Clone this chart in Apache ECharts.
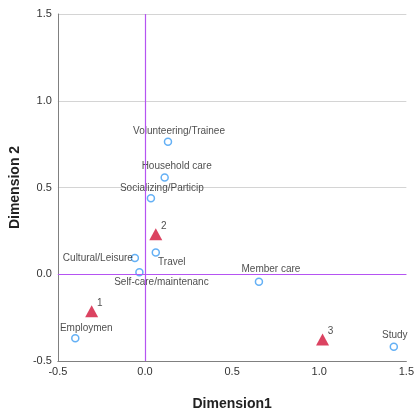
<!DOCTYPE html>
<html>
<head>
<meta charset="utf-8">
<script src="https://cdn.jsdelivr.net/npm/echarts@6/dist/echarts.min.js"></script>
<style>
  html, body { margin: 0; padding: 0; background: #fff; }
  #main { width: 417px; height: 416px; }
</style>
</head>
<body>
<div id="main"></div>
<script>
// category points (row/column coordinates)
const catNames = ['Volunteering/Trainee', 'Household care', 'Socializing/Particip', 'Travel',
  'Cultural/Leisure', 'Self-care/maintenanc', 'Member care', 'Employmen', 'Study']
const catX = [0.132, 0.113, 0.034, 0.062, -0.058, -0.032, 0.654, -0.400, 1.428]
const catY = [0.763, 0.557, 0.438, 0.126, 0.094, 0.011, -0.043, -0.369, -0.418]

// cluster points
const clusterNames = ['1', '2', '3']
const clusterX = [-0.306, 0.062, 1.019]
const clusterY = [-0.213, 0.231, -0.376]

const tickValues = [-0.5, 0.0, 0.5, 1.0, 1.5]

// label placement (offset from point centre)
const labelOffset = {
  'Volunteering/Trainee': [11, -11],
  'Household care': [12, -11],
  'Socializing/Particip': [11, -10],
  'Travel': [16, 10],
  'Cultural/Leisure': [-37, 0],
  'Self-care/maintenanc': [22, 10],
  'Member care': [12, -12],
  'Employmen': [11, -10],
  'Study': [1, -12]
}

const chart = echarts.init(document.getElementById('main'))

const font = 'Liberation Sans, Arial, sans-serif'
const refColor = '#b554f2'

const catData = catNames.map((n, i) => ({
  name: n,
  value: [catX[i], catY[i]],
  label: { offset: labelOffset[n] }
}))
const clusterData = clusterNames.map((n, i) => ({
  name: n,
  value: [clusterX[i], clusterY[i]]
}))

chart.setOption({
  animation: false,
  grid: { left: 56, right: 7, top: 14, bottom: 48 },
  xAxis: {
    type: 'value',
    min: tickValues[0],
    max: tickValues[tickValues.length - 1],
    interval: 0.5,
    name: 'Dimension1',
    nameLocation: 'middle',
    nameGap: 36,
    nameTextStyle: { fontFamily: font, fontSize: 14, fontWeight: 'bold', color: '#222' },
    axisLine: { show: true, onZero: false, lineStyle: { color: '#808080', width: 1 } },
    axisTick: { show: false },
    axisLabel: {
      fontFamily: font, fontSize: 11, color: '#333', margin: 5,
      formatter: v => v.toFixed(1)
    },
    splitLine: { show: false }
  },
  yAxis: {
    type: 'value',
    min: tickValues[0],
    max: tickValues[tickValues.length - 1],
    interval: 0.5,
    name: 'Dimension 2',
    nameLocation: 'middle',
    nameGap: 34,
    nameTextStyle: { fontFamily: font, fontSize: 14, fontWeight: 'bold', color: '#222' },
    axisLine: { show: true, onZero: false, lineStyle: { color: '#808080', width: 1 } },
    axisTick: { show: false },
    axisLabel: {
      fontFamily: font, fontSize: 11, color: '#333', margin: 6,
      formatter: v => v.toFixed(1)
    },
    splitLine: { show: true, lineStyle: { color: '#d4d4d4', width: 1 } }
  },
  series: [
    {
      type: 'scatter',
      symbol: 'circle',
      symbolSize: 7,
      itemStyle: { color: '#fff', borderColor: '#3d9cf2', borderWidth: 1.5 },
      label: {
        show: true,
        position: 'inside',
        formatter: '{b}',
        fontFamily: font,
        fontSize: 10,
        color: '#222'
      },
      data: catData,
      z: 3
    },
    {
      // reference lines through the origin
      type: 'scatter',
      data: [],
      z: 2,
      markLine: {
        silent: true,
        symbol: 'none',
        z: 10,
        label: { show: false },
        lineStyle: { color: refColor, type: 'solid', width: 1.2, opacity: 1 },
        emphasis: { disabled: true },
        data: [{ xAxis: 0 }, { yAxis: 0 }]
      }
    },
    {
      type: 'scatter',
      symbol: 'triangle',
      symbolSize: [13, 12],
      itemStyle: { color: '#d2143a' },
      label: {
        show: true,
        position: 'inside',
        offset: [8, -8],
        formatter: '{b}',
        fontFamily: font,
        fontSize: 10,
        color: '#222'
      },
      data: clusterData,
      z: 4
    }
  ]
})
</script>
</body>
</html>
